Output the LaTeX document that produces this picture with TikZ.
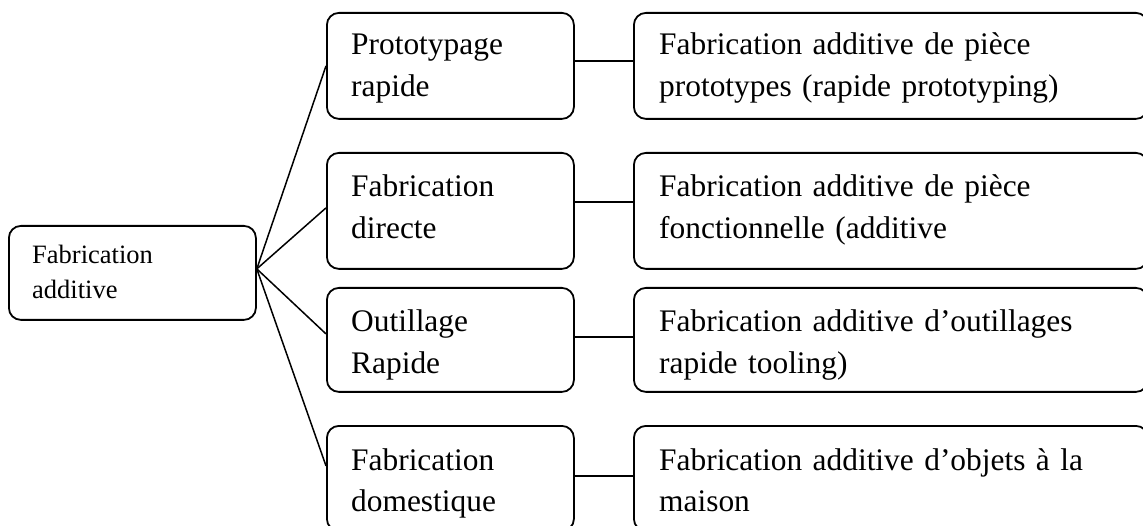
\documentclass[tikz,border=0pt]{standalone}
\usepackage{fontspec}
\setmainfont{Liberation Serif}
\begin{document}
\begin{tikzpicture}[x=1pt,y=-1pt,
  box/.style={draw, line width=1.8pt, rounded corners=12pt, inner sep=0pt, anchor=north west},
  link/.style={line width=1.5pt},
  bigtxt/.style={font=\fontsize{31.4}{41.5}\selectfont, align=left, text width=#1, inner sep=0pt, anchor=base west},
  smalltxt/.style={font=\fontsize{26.5}{35}\selectfont, align=left, text width=#1, inner sep=0pt, anchor=base west}]
\useasboundingbox (0,0) rectangle (1143,526);

% boxes
\node[box, minimum width=247pt, minimum height=94pt]  (L)  at (8,225) {};
\node[box, minimum width=247pt, minimum height=106pt] (m1) at (326,12) {};
\node[box, minimum width=247pt, minimum height=116pt] (m2) at (326,152) {};
\node[box, minimum width=247pt, minimum height=104pt] (m3) at (326,287) {};
\node[box, minimum width=247pt, minimum height=105pt] (m4) at (326,425) {};
\node[box, minimum width=514pt, minimum height=106pt] (r1) at (633,12) {};
\node[box, minimum width=514pt, minimum height=116pt] (r2) at (633,152) {};
\node[box, minimum width=514pt, minimum height=104pt] (r3) at (633,287) {};
\node[box, minimum width=514pt, minimum height=105pt] (r4) at (633,425) {};

% texts
\node[smalltxt=200pt] (tL) at (32,264) {Fabrication\\additive};
\node[bigtxt=215pt] (tm1) at (351,55)  {Prototypage\\rapide};
\node[bigtxt=215pt] (tm2) at (351,197) {Fabrication\\directe};
\node[bigtxt=215pt] (tm3) at (351,332) {Outillage\\Rapide};
\node[bigtxt=215pt] (tm4) at (351,470) {Fabrication\\domestique};
\node[bigtxt=470pt] (tr1) at (659,55)  {Fabrication additive de pièce\\prototypes (rapide prototyping)};
\node[bigtxt=470pt] (tr2) at (659,197) {Fabrication additive de pièce\\fonctionnelle (additive};
\node[bigtxt=470pt] (tr3) at (659,332) {Fabrication additive d’outillages\\rapide tooling)};
\node[bigtxt=470pt] (tr4) at (659,470) {Fabrication additive d’objets à la\\maison};

% connectors from the root
\draw[link] ([yshift=4pt]L.east) -- (m1.west);
\draw[link] ([yshift=4pt]L.east) -- ([yshift=3pt]m2.west);
\draw[link] ([yshift=4pt]L.east) -- ([yshift=6pt]m3.west);
\draw[link] ([yshift=4pt]L.east) -- ([yshift=12.5pt]m4.west);

% horizontal connectors
\draw[link] ([yshift=5pt]m1.east) -- ([yshift=5pt]m1.east -| r1.west);
\draw[link] ([yshift=9pt]m2.east) -- ([yshift=9pt]m2.east -| r2.west);
\draw[link] ([yshift=3pt]m3.east) -- ([yshift=3pt]m3.east -| r3.west);
\draw[link] ([yshift=2.5pt]m4.east) -- ([yshift=2.5pt]m4.east -| r4.west);
\end{tikzpicture}
\end{document}
